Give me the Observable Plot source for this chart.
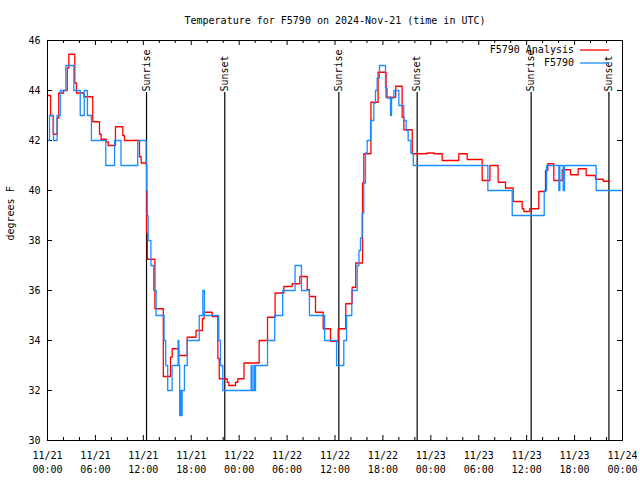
<!DOCTYPE html>
<html><head><meta charset="utf-8">
<script src="https://cdn.jsdelivr.net/npm/d3@7"></script>
<script src="https://cdn.jsdelivr.net/npm/@observablehq/plot@0.6"></script>
<style>body{margin:0;background:#fff}</style>
</head><body><div id="chart"></div>
<script>
const title = "Temperature for F5790 on 2024-Nov-21 (time in UTC)";
const yLabel = "degrees F";
const startUTC = Date.UTC(2024, 10, 21, 0, 0);
const endUTC = Date.UTC(2024, 10, 24, 0, 0);

// Hours since 2024-11-21 00:00 UTC and temperatures (degrees F)
const analysisHours = [0,0.38,0.71,1.21,1.41,2.0,2.47,2.67,3.42,3.63,4.55,5.67,6.51,6.72,7.35,7.6,8.51,9.43,9.64,11.52,11.73,12.4,12.5,13.45,14.5,15.4,15.61,16.44,17.49,18.6,19.4,19.6,20.62,21.33,21.5,22.5,22.7,23.54,23.83,24.6,26.5,27.55,28.5,29.6,30.64,31.6,32.52,32.8,33.56,34.52,35.44,36.4,37.35,38.15,38.6,39.45,39.61,40.5,41.4,42.4,43.6,44.41,44.62,45.67,47.55,48.38,49.42,51.5,52.55,54.43,55.4,56.43,57.35,58.31,59.44,59.64,60.39,61.52,62.36,62.65,63.4,64.45,65.49,66.45,67.45,68.62,69.58,70.41];
const analysisTemps = [43.8,43.0,42.25,42.9,43.9,44.0,44.9,45.45,44.3,43.9,43.75,42.75,42.25,42.05,41.95,41.8,42.55,42.2,42.0,41.35,41.1,38.3,37.25,35.27,32.56,33.33,33.67,33.4,34.13,34.4,34.87,35.13,34.96,33.28,32.47,32.33,32.2,32.33,32.47,33.1,34.0,34.93,35.9,36.16,36.27,36.56,36.03,35.76,35.13,34.47,33.97,34.47,35.47,36.13,37.1,40.3,41.47,43.53,44.73,43.73,44.17,42.93,42.43,41.47,41.5,41.47,41.2,41.47,41.24,40.4,41.0,40.33,40.1,39.56,39.27,39.16,39.27,39.96,40.8,41.07,40.4,40.83,40.63,40.87,40.6,40.45,40.37,40.37];

const obsHours = [0,0.25,0.75,1.2,1.6,2.3,3.3,4.1,4.6,5.0,5.5,7.3,8.4,9.2,11.3,12.35,12.42,12.5,12.6,12.95,13.3,13.6,14.6,14.8,15.05,15.6,16.35,16.45,16.55,16.65,16.75,16.86,17.15,17.5,19.0,19.45,19.65,21.45,21.66,21.95,25.5,25.62,25.85,25.95,26.05,27.55,28.45,29.45,31.0,31.8,32.8,34.7,36.2,37.1,37.45,38.1,38.78,39.0,39.19,39.4,39.6,39.82,40.03,40.45,40.86,41.07,41.28,41.57,42.32,42.53,42.95,43.08,43.37,44.0,44.62,44.91,45.16,45.5,45.8,55.14,58.19,62.2,62.5,64.03,64.15,64.57,64.74,68.7,72];
const obsTemps = [42,43,42,43,44,45,44,43,44,43,42,41,42,41,42,41,40,39,38,37,36,35,34,33,32,33,34,33,31,32,31,32,33,34,35,36,35,34,33,32,33,32,33,32,33,34,35,36,37,36,35,34,33,34,35,36,37,37.6,38.1,39.1,40.3,41.5,42.0,42.8,43.5,44.0,44.5,45.0,44.1,43.7,43.0,43.7,44.0,43.4,42.8,42.4,42.0,41.5,41,40,39,40,41,40,41,40,41,40,40];

const sunHours = [12.4, 22.2, 36.48, 46.29, 60.56, 70.3];
const sunLabels = ["Sunrise", "Sunset", "Sunrise", "Sunset", "Sunrise", "Sunset"];

const yTicks = [30, 32, 34, 36, 38, 40, 42, 44, 46];
const xMajorHours = [0, 6, 12, 18, 24, 30, 36, 42, 48, 54, 60, 66, 72];
const xMinorHours = [2, 4, 8, 10, 14, 16, 20, 22, 26, 28, 32, 34, 38, 40, 44, 46, 50, 52, 56, 58, 62, 64, 68, 70];

const seriesNames = ["F5790 Analysis", "F5790"];
const seriesColors = ["#ff0000", "#1a8cff"];

const toDate = h => new Date(startUTC + h * 3600000);
const analysis = analysisHours.map((h, i) => ({t: toDate(h), v: analysisTemps[i]}));
const obs = obsHours.map((h, i) => ({t: toDate(h), v: obsTemps[i]}));
const sun = sunHours.map((h, i) => ({t: toDate(h), label: sunLabels[i]}));
const xMajor = xMajorHours.map(toDate);
const xMinor = xMinorHours.map(toDate);
const fmt = d3.utcFormat("%m/%d\n%H:%M");

const font = "'DejaVu Sans Mono', monospace";
const W = 640, H = 480, mt = 40, mb = 40, ml = 47, mr = 18;
const fw = W - ml - mr, fh = H - mt - mb;

const chart = Plot.plot({
  width: W, height: H,
  marginTop: mt, marginBottom: mb, marginLeft: ml, marginRight: mr,
  style: {fontFamily: font, fontSize: "10px", background: "white", color: "black"},
  x: {type: "utc", domain: [new Date(startUTC), new Date(endUTC)], label: null},
  y: {domain: [30, 46], label: null},
  marks: [
    Plot.axisX(xMajor, {tickSize: 0, tickPadding: 9, tickFormat: fmt, lineHeight: 1.4, fill: "black"}),
    Plot.axisY(yTicks, {tickSize: 0, tickPadding: 7, fill: "black"}),
    Plot.tickX(xMajor, {x: d => d, insetTop: fh - 5, stroke: "black"}),
    Plot.tickX(xMajor, {x: d => d, insetBottom: fh - 5, stroke: "black"}),
    Plot.tickX(xMinor, {x: d => d, insetTop: fh - 3, stroke: "black"}),
    Plot.tickX(xMinor, {x: d => d, insetBottom: fh - 3, stroke: "black"}),
    Plot.tickY(yTicks, {y: d => d, insetRight: fw - 5, stroke: "black"}),
    Plot.tickY(yTicks, {y: d => d, insetLeft: fw - 5, stroke: "black"}),
    Plot.ruleX(sun, {x: "t", insetTop: 52, stroke: "black", strokeWidth: 1.2}),
    Plot.text(sun, {x: "t", text: "label", frameAnchor: "top", dy: 51, rotate: -90, textAnchor: "start", lineAnchor: "middle", fill: "black"}),
    Plot.line(analysis, {x: "t", y: "v", curve: "step-after", stroke: seriesColors[0], strokeWidth: 1.3}),
    Plot.line(obs, {x: "t", y: "v", curve: "step-after", stroke: seriesColors[1], strokeWidth: 1.3}),
    Plot.frame({stroke: "black"}),
    Plot.text([title], {text: d => d, frameAnchor: "top", dy: -20, lineAnchor: "middle", fill: "black"}),
    Plot.text([yLabel], {text: d => d, frameAnchor: "left", dx: -37, rotate: -90, lineAnchor: "middle", fill: "black"})
  ]
});

// Legend (inside the frame, top right)
const svg = d3.select(chart);
const lg = svg.append("g").attr("font-family", font).attr("font-size", 10);
seriesNames.forEach((name, i) => {
  const y = 50 + i * 13;
  lg.append("text").attr("x", 574).attr("y", y).attr("dy", "0.32em")
    .attr("text-anchor", "end").attr("fill", "black").text(name);
  lg.append("line").attr("x1", 580).attr("x2", 609).attr("y1", y).attr("y2", y)
    .attr("stroke", seriesColors[i]).attr("stroke-width", 1.3);
});

document.getElementById("chart").appendChild(chart);
</script>
</body></html>
